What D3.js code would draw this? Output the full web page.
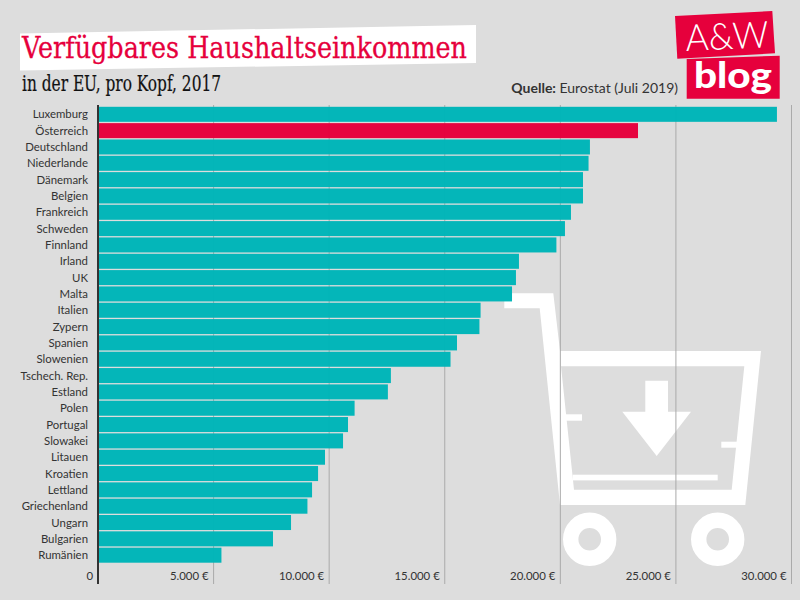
<!DOCTYPE html>
<html>
<head>
<meta charset="utf-8">
<script src="https://cdnjs.cloudflare.com/ajax/libs/d3/7.8.5/d3.min.js"></script>
<style>
    html, body { margin: 0; padding: 0; background: #dddddd; }
    svg { display: block; }
    .label { font-family: Lato, sans-serif; font-size: 11.4px; fill: #333; }
</style>
</head>
<body>
<div id="chart"></div>
<script>
const countries = ['Luxemburg', 'Österreich', 'Deutschland', 'Niederlande', 'Dänemark', 'Belgien',
    'Frankreich', 'Schweden', 'Finnland', 'Irland', 'UK', 'Malta', 'Italien', 'Zypern', 'Spanien',
    'Slowenien', 'Tschech. Rep.', 'Estland', 'Polen', 'Portugal', 'Slowakei', 'Litauen', 'Kroatien',
    'Lettland', 'Griechenland', 'Ungarn', 'Bulgarien', 'Rumänien'];
const incomes = [29370, 23360, 21280, 21220, 20980, 20980, 20460, 20200, 19830, 18210, 18080, 17910,
    16550, 16500, 15530, 15250, 12670, 12540, 11100, 10815, 10600, 9820, 9520, 9260, 9060, 8350, 7570, 5340];
const xTicks = [5000, 10000, 15000, 20000, 25000, 30000];
const highlight = 'Österreich';

const width = 800;
const height = 600;
const axisTop = 105;
const axisBottom = 584;

const svg = d3.select('#chart').append('svg')
    .attr('width', width)
    .attr('height', height);

const xScale = d3.scaleLinear().domain([0, 30000]).range([98, 791.5]);
const yScale = d3.scaleBand().domain(countries).range([105.5, 564]).padding(0.08);

// shopping cart behind the bars
const cart = svg.append('g').attr('fill', '#fff');
cart.append('path')
    .attr('fill-rule', 'evenodd')
    .attr('d', 'M504.3,293.3 L553.3,293.3 L560,351 L761,351 L745.3,505 L560,505 L539.7,308.3 L504.3,308.3 Z ' +
        'M561,366.3 L744.3,366.3 L731.7,489.7 L574,489.7 Z');
cart.append('rect').attr('x', 565).attr('y', 414.3).attr('width', 17).attr('height', 6.4);
cart.append('rect').attr('x', 721.3).attr('y', 441.7).attr('width', 17).attr('height', 6);
cart.append('rect').attr('x', 572.7).attr('y', 474.7).attr('width', 145).attr('height', 5.7);
cart.append('path')
    .attr('d', 'M645.3,380.7 L668,380.7 L668,411.7 L691,411.7 L656.7,456 L622.3,411.7 L645.3,411.7 Z');
[589.7, 717.7].forEach((cx) => {
    cart.append('circle')
        .attr('cx', cx)
        .attr('cy', 539.3)
        .attr('r', 19)
        .attr('fill', 'none')
        .attr('stroke', '#fff')
        .attr('stroke-width', 15.4);
});

// gridlines, only faintly visible through the bars
svg.append('g').selectAll('line')
    .data(xTicks)
    .enter()
    .append('line')
    .attr('x1', (d) => xScale(d))
    .attr('x2', (d) => xScale(d))
    .attr('y1', axisTop)
    .attr('y2', axisBottom)
    .attr('stroke', '#aaa')
    .attr('stroke-width', 1);

// bars
svg.append('g').selectAll('rect')
    .data(countries)
    .enter()
    .append('rect')
    .attr('x', xScale(0))
    .attr('y', (d) => yScale(d))
    .attr('width', (d, i) => xScale(incomes[i]) - xScale(0))
    .attr('height', yScale.bandwidth())
    .attr('fill', (d) => (d === highlight ? '#e6003c' : '#00b5b8'))
    .attr('fill-opacity', 0.985);

// axis line
svg.append('line')
    .attr('x1', 98).attr('x2', 98)
    .attr('y1', axisTop).attr('y2', axisBottom)
    .attr('stroke', '#333')
    .attr('stroke-width', 2);

// category labels
svg.append('g').selectAll('text')
    .data(countries)
    .enter()
    .append('text')
    .attr('class', 'label')
    .attr('x', 88)
    .attr('y', (d) => yScale(d) + yScale.bandwidth() / 2 + 4)
    .attr('text-anchor', 'end')
    .text((d) => d);

// x tick labels
const tickFormat = (d) => d3.format(',')(d).replace(',', '.') + ' €';
svg.append('g').selectAll('text')
    .data(xTicks)
    .enter()
    .append('text')
    .attr('class', 'label')
    .attr('x', (d) => xScale(d) - 5)
    .attr('y', 580)
    .attr('text-anchor', 'end')
    .text(tickFormat);
svg.append('text')
    .attr('class', 'label')
    .attr('x', 93)
    .attr('y', 580)
    .attr('text-anchor', 'end')
    .text('0');

// title block
svg.append('path')
    .attr('d', 'M20,33.5 L476,25 L476,63 L20,70.5 Z')
    .attr('fill', '#fff');
svg.append('text')
    .attr('x', 22)
    .attr('y', 58)
    .attr('font-family', "'DejaVu Serif', serif")
    .attr('font-size', 29)
    .attr('textLength', 445)
    .attr('lengthAdjust', 'spacingAndGlyphs')
    .attr('fill', '#e6003c')
    .attr('stroke', '#e6003c')
    .attr('stroke-width', 0.3)
    .text('Verfügbares Haushaltseinkommen');
svg.append('text')
    .attr('x', 22)
    .attr('y', 91)
    .attr('font-family', "'DejaVu Serif', serif")
    .attr('font-size', 22)
    .attr('textLength', 199)
    .attr('lengthAdjust', 'spacingAndGlyphs')
    .attr('fill', '#111')
    .attr('stroke', '#111')
    .attr('stroke-width', 0.2)
    .text('in der EU, pro Kopf, 2017');

// source
const source = svg.append('text')
    .attr('x', 678)
    .attr('y', 93)
    .attr('text-anchor', 'end')
    .attr('font-family', 'Lato, sans-serif')
    .attr('font-size', 14)
    .attr('fill', '#333');
source.append('tspan').attr('font-weight', 700).text('Quelle: ');
source.append('tspan').text('Eurostat (Juli 2019)');

// logo
svg.append('path')
    .attr('d', 'M675,16 L772.3,11 L775,53.3 L677.3,58.7 Z')
    .attr('fill', '#e6003c');
svg.append('path')
    .attr('d', 'M686.7,59 L779.7,55.7 L779.7,98.7 L686.7,98.7 Z')
    .attr('fill', '#e6003c');
svg.append('text')
    .attr('transform', 'translate(686,51) rotate(-2.5)')
    .attr('font-family', 'Lato, sans-serif')
    .attr('font-weight', 300)
    .attr('font-size', 37)
    .attr('textLength', 83)
    .attr('lengthAdjust', 'spacingAndGlyphs')
    .attr('fill', '#fff')
    .text('A&W');
svg.append('text')
    .attr('x', 694)
    .attr('y', 88)
    .attr('font-family', 'Lato, sans-serif')
    .attr('font-weight', 900)
    .attr('font-size', 36)
    .attr('textLength', 78)
    .attr('lengthAdjust', 'spacingAndGlyphs')
    .attr('fill', '#fff')
    .text('blog');
</script>
</body>
</html>
